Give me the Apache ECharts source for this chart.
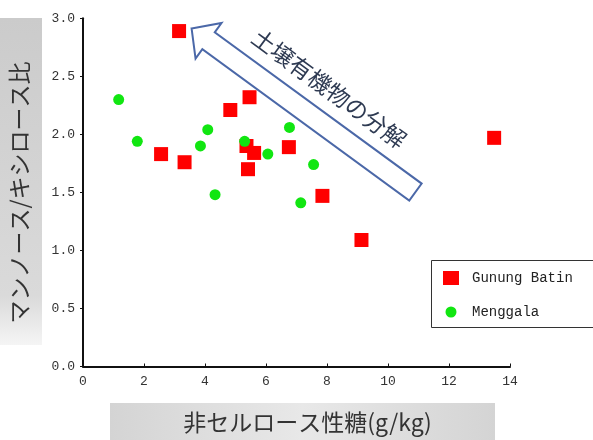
<!DOCTYPE html>
<html><head><meta charset="utf-8">
<script src="https://cdn.jsdelivr.net/npm/echarts@6/dist/echarts.min.js"></script>
<style>html,body{margin:0;padding:0;background:#fff}#c{width:593px;height:440px}</style>
</head><body><div id="c"></div>
<script>
// ---- data ----
const seriesNames = ['Gunung Batin', 'Menggala'];
const gunungX = [3.15, 5.46, 4.83, 2.56, 3.33, 5.36, 5.61, 5.41, 6.75, 13.48, 7.85, 9.13];
const gunungY = [2.89, 2.32, 2.21, 1.83, 1.76, 1.90, 1.84, 1.70, 1.89, 1.97, 1.47, 1.09];
const menggalaX = [1.17, 1.78, 4.09, 3.85, 5.30, 6.77, 6.06, 7.56, 4.33, 7.14];
const menggalaY = [2.30, 1.94, 2.04, 1.90, 1.94, 2.06, 1.83, 1.74, 1.48, 1.41];
const xTickValues = [0, 2, 4, 6, 8, 10, 12, 14];
const yTickValues = [0.0, 0.5, 1.0, 1.5, 2.0, 2.5, 3.0];
const xTitle = '非セルロース性糖(g/kg)';
const yTitle = 'マンノース/キシロース比';
const arrowText = '土壌有機物の分解';
// annotation anchors (data space)
const arrowTip = [3.56, 2.913];
const arrowTail = [10.9, 1.503];
const arrowLabelAt = [8.07, 2.396];

const zip = (a, b) => a.map((v, i) => [v, b[i]]);
const mono = '"Liberation Mono", "DejaVu Sans Mono", monospace';
const cjk = '"Noto Sans CJK JP", "Noto Sans", sans-serif';
// small circle inside a 16x14 box for the legend icon
const smallCircleIcon = 'path://M0 0L0.01 0M16 14L16.01 14M8 1.5A5.5 5.5 0 1 1 7.99 1.5Z';

const chart = echarts.init(document.getElementById('c'), null, {renderer: 'canvas'});
chart.setOption({
  animation: false,
  backgroundColor: '#fff',
  grid: {left: 80.7, right: 83, top: 18.3, bottom: 73.5, containLabel: false},
  xAxis: {
    type: 'value', min: xTickValues[0], max: xTickValues[xTickValues.length - 1], interval: 2,
    name: xTitle, nameLocation: 'middle', nameGap: 44,
    nameTextStyle: {fontFamily: cjk, fontSize: 23, color: '#333', padding: [0, 0, 0, 22]},
    axisLine: {lineStyle: {color: '#111', width: 2}},
    axisTick: {inside: true, length: 3, lineStyle: {color: '#111'}},
    axisLabel: {fontFamily: mono, fontSize: 13, color: '#333', margin: 9},
    splitLine: {show: false}
  },
  yAxis: {
    type: 'value', min: yTickValues[0], max: yTickValues[yTickValues.length - 1], interval: 0.5,
    name: yTitle, nameLocation: 'middle', nameRotate: 90, nameGap: 52,
    nameTextStyle: {fontFamily: cjk, fontSize: 23, color: '#333'},
    axisLine: {lineStyle: {color: '#111', width: 2}},
    axisTick: {length: 3, lineStyle: {color: '#111'}},
    axisLabel: {fontFamily: mono, fontSize: 13, color: '#333', margin: 8,
      formatter: v => v.toFixed(1)},
    splitLine: {show: false}
  },
  legend: {
    left: 432, top: 261, orient: 'vertical', z: 20,
    padding: [10, 10, 8, 11], itemGap: 20, itemWidth: 16, itemHeight: 14,
    borderWidth: 0, backgroundColor: 'transparent',
    textStyle: {fontFamily: mono, fontSize: 14, color: '#222', padding: [0, 0, 0, 8]},
    data: [{name: seriesNames[0], icon: 'rect'}, {name: seriesNames[1], icon: smallCircleIcon}]
  },
  series: [
    {name: seriesNames[0], type: 'scatter', symbol: 'rect', symbolSize: 14,
     itemStyle: {color: '#ff0000', opacity: 1}, data: zip(gunungX, gunungY), z: 2},
    {name: seriesNames[1], type: 'scatter', symbol: 'circle', symbolSize: 11,
     itemStyle: {color: '#11e611', opacity: 1}, data: zip(menggalaX, menggalaY), z: 3}
  ]
});

// annotation arrow + background boxes
const T = chart.convertToPixel({gridIndex: 0}, arrowTip);
const B = chart.convertToPixel({gridIndex: 0}, arrowTail);
const L = chart.convertToPixel({gridIndex: 0}, arrowLabelAt);
const dx = T[0] - B[0], dy = T[1] - B[1], len = Math.hypot(dx, dy);
const u = [dx / len, dy / len];
const n = [-u[1], u[0]];
const headLen = 21, headHalf = 22, shaftHalf = 10.5;
const H = [T[0] - u[0] * headLen, T[1] - u[1] * headLen];
const P = (p, k) => [p[0] + n[0] * k, p[1] + n[1] * k];
const pts = [T, P(H, headHalf), P(H, shaftHalf), P(B, shaftHalf), P(B, -shaftHalf), P(H, -shaftHalf), P(H, -headHalf)];
const ang = Math.atan2(B[1] - T[1], B[0] - T[0]);

chart.setOption({
  graphic: [
    {type: 'rect', z: -100, shape: {x: 0, y: 18, width: 42, height: 327},
     style: {fill: new echarts.graphic.LinearGradient(0, 0, 0, 1, [
       {offset: 0, color: '#cbcbcb'}, {offset: 0.85, color: '#dadada'}, {offset: 1, color: '#f5f5f5'}])}},
    {type: 'rect', z: -100, shape: {x: 110, y: 403, width: 385, height: 37},
     style: {fill: new echarts.graphic.LinearGradient(0, 0, 1, 0, [
       {offset: 0, color: '#d4d4d4'}, {offset: 0.5, color: '#e8e8e8'}, {offset: 1, color: '#d4d4d4'}])}},
    {type: 'rect', z: 5, shape: {x: 431.5, y: 260.5, width: 200, height: 67},
     style: {fill: '#fff', stroke: '#333', lineWidth: 1}},
    {type: 'polygon', z: 10, shape: {points: pts},
     style: {fill: '#fff', stroke: '#4b68a8', lineWidth: 2}},
    {type: 'text', z: 10, x: L[0], y: L[1], rotation: -ang,
     style: {text: arrowText, fontFamily: cjk, fontSize: 23, fill: '#2e3a52',
       align: 'center', verticalAlign: 'middle'}}
  ]
});
</script></body></html>
